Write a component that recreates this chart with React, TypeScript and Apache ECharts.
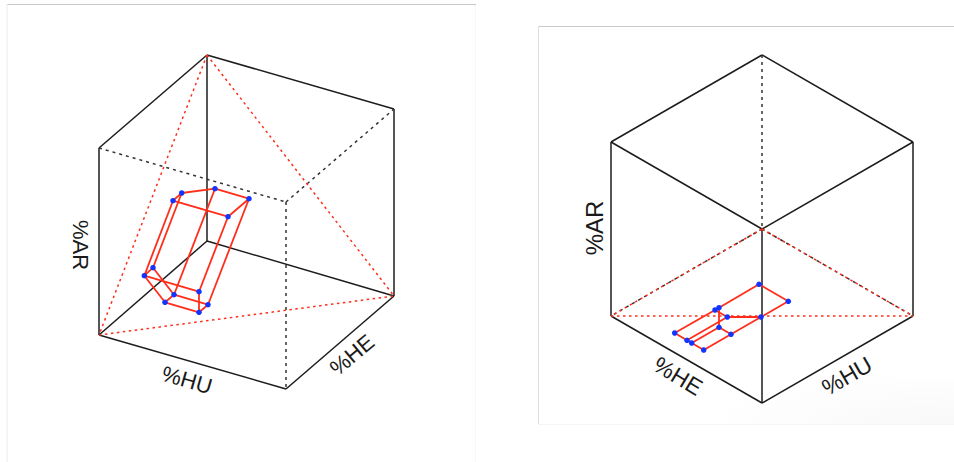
import React, { useEffect, useRef } from "react";
import * as echarts from "echarts";

type Pt = [number, number];
type Seg = [string, string];

const WIDTH = 954;
const HEIGHT = 462;

// Left panel
const leftCube: Record<string, Pt> = {
  topLeft: [99, 148], topBack: [207, 55], topRight: [394, 109], topFront: [286, 202],
  botLeft: [99, 335], botBack: [207, 241], botRight: [394, 296], botFront: [286, 389],
};
const leftSolid: Seg[] = [
  ["topLeft", "topBack"], ["topBack", "topRight"], ["topRight", "botRight"], ["botRight", "botFront"],
  ["botFront", "botLeft"], ["botLeft", "topLeft"], ["topBack", "botBack"], ["botBack", "botLeft"], ["botBack", "botRight"],
];
const leftDotted: Seg[] = [["topLeft", "topFront"], ["topFront", "topRight"], ["topFront", "botFront"]];
const leftRedDotted: Seg[] = [["topBack", "botLeft"], ["topBack", "botRight"], ["botLeft", "botRight"]];
const leftRegion: Record<string, Pt> = {
  a: [181.7, 193], b: [215, 188.7], c: [249, 198.7], d: [228, 216.7], e: [173, 200.7],
  f: [153, 267.7], g: [144.3, 275.7], h: [165, 302.3], i: [174, 294.7], j: [199, 291.7], k: [208, 304.7], l: [199, 312.3],
};
const leftRegionEdges: Seg[] = [
  ["a", "b"], ["b", "c"], ["c", "d"], ["d", "e"], ["e", "a"],
  ["a", "f"], ["e", "g"], ["b", "i"], ["c", "k"], ["d", "j"],
  ["f", "g"], ["g", "h"], ["g", "j"], ["f", "i"], ["h", "i"], ["h", "l"], ["i", "k"], ["l", "k"], ["j", "l"],
];

// Right panel
const rightCube: Record<string, Pt> = {
  top: [762, 55], upLeft: [611, 142], upRight: [913, 142], centre: [762, 229],
  lowLeft: [611, 316], lowRight: [913, 316], bottom: [762, 403],
};
const rightSolid: Seg[] = [
  ["upLeft", "top"], ["top", "upRight"], ["upRight", "lowRight"], ["lowRight", "bottom"], ["bottom", "lowLeft"],
  ["lowLeft", "upLeft"], ["upLeft", "centre"], ["centre", "upRight"], ["centre", "bottom"],
];
const rightDotted: Seg[] = [["top", "centre"], ["centre", "lowLeft"], ["centre", "lowRight"]];
const rightRedDotted: Seg[] = [["centre", "lowLeft"], ["centre", "lowRight"], ["lowLeft", "lowRight"]];
const rightRegion: Record<string, Pt> = {
  A: [759, 284.3], B: [788.3, 301.3], C: [761, 317], D: [731, 334.3], E: [719, 327.3], F: [727.3, 317],
  G: [719, 307.7], H: [715, 310], I: [674.7, 333], J: [687, 340.3], K: [691.7, 343], L: [703.7, 350],
};
const rightRegionEdges: Seg[] = [
  ["G", "A"], ["A", "B"], ["B", "C"], ["C", "D"], ["C", "F"], ["D", "L"], ["D", "E"], ["E", "G"], ["G", "H"],
  ["H", "F"], ["H", "I"], ["I", "J"], ["J", "K"], ["K", "L"], ["J", "F"], ["K", "E"],
];

const axisLabels: { text: string; x: number; y: number; angle: number; size: number }[] = [
  { text: "%HU", x: 187, y: 380, angle: -16, size: 22 },
  { text: "%HE", x: 352, y: 355, angle: 40, size: 22 },
  { text: "%AR", x: 80, y: 245, angle: -90, size: 22 },
  { text: "%HE", x: 678, y: 376, angle: -31, size: 23 },
  { text: "%HU", x: 847, y: 376, angle: 30, size: 23 },
  { text: "%AR", x: 594, y: 228, angle: 90, size: 24 },
];

const BLACK = "#1c1c1c";
const RED = "#ff2d1a";
const BLUE = "#1234ff";

function segSeries(pts: Record<string, Pt>, segs: Seg[], color: string, width: number, dash?: number[]) {
  return segs.map(([p, q]) => ({
    type: "line",
    data: [pts[p], pts[q]],
    symbol: "none",
    silent: true,
    clip: false,
    lineStyle: { color, width, type: dash ?? "solid" },
  }));
}

function dots(pts: Record<string, Pt>) {
  return {
    type: "scatter",
    data: Object.values(pts),
    symbol: "circle",
    symbolSize: 5.5,
    silent: true,
    clip: false,
    z: 5,
    itemStyle: { color: BLUE, opacity: 1 },
  };
}

function borderLine(x1: number, y1: number, x2: number, y2: number, stroke: string, lineWidth = 1) {
  return { type: "line", shape: { x1, y1, x2, y2 }, silent: true, z: -1, style: { stroke, lineWidth } };
}

export default function App() {
  const ref = useRef<HTMLDivElement>(null);
  useEffect(() => {
    const chart = echarts.init(ref.current!, undefined, { renderer: "svg" });
    chart.setOption({
      animation: false,
      backgroundColor: "#ffffff",
      grid: { left: 0, right: 0, top: 0, bottom: 0 },
      xAxis: { type: "value", min: 0, max: WIDTH, show: false },
      yAxis: { type: "value", min: 0, max: HEIGHT, inverse: true, show: false },
      tooltip: { show: false },
      graphic: [
        {
          type: "rect",
          shape: { x: 700, y: 370, width: 254, height: 54 },
          silent: true,
          z: -2,
          style: {
            fill: new echarts.graphic.RadialGradient(1, 1, 1, [
              { offset: 0, color: "#f8f8f8" },
              { offset: 1, color: "#ffffff" },
            ]),
          },
        },
        borderLine(7, 4.5, 476, 4.5, "#c9c9c9"),
        borderLine(7, 4, 7, 462, "#ebebeb"),
        borderLine(475.5, 5, 475.5, 462, "#f8f8f8"),
        borderLine(538, 26.5, 954, 26.5, "#c9c9c9"),
        borderLine(538.5, 26, 538.5, 424, "#dedede"),
        borderLine(538, 424.5, 954, 424.5, "#f5f5f5"),
        ...axisLabels.map((l) => ({
          type: "text",
          x: l.x,
          y: l.y,
          rotation: (l.angle * Math.PI) / 180,
          silent: true,
          style: {
            text: l.text,
            fontFamily: "Liberation Sans",
            fontSize: l.size,
            fill: "#1a1a1a",
            align: "center",
            verticalAlign: "middle",
          },
        })),
      ],
      series: [
        ...segSeries(leftCube, leftSolid, BLACK, 1.5),
        ...segSeries(leftCube, leftDotted, "#333333", 1.5, [3, 4]),
        ...segSeries(leftCube, leftRedDotted, RED, 1.5, [2.5, 3.5]),
        ...segSeries(leftRegion, leftRegionEdges, RED, 1.8),
        dots(leftRegion),
        ...segSeries(rightCube, rightSolid, BLACK, 1.5),
        ...segSeries(rightCube, rightDotted, "#333333", 1.5, [3, 4]),
        ...segSeries(rightCube, rightRedDotted, RED, 1.5, [2.5, 3.5]),
        ...segSeries(rightRegion, rightRegionEdges, RED, 1.8),
        dots(rightRegion),
      ],
    });
    return () => chart.dispose();
  }, []);
  return <div ref={ref} style={{ position: "absolute", left: 0, top: 0, width: WIDTH, height: HEIGHT }} />;
}
